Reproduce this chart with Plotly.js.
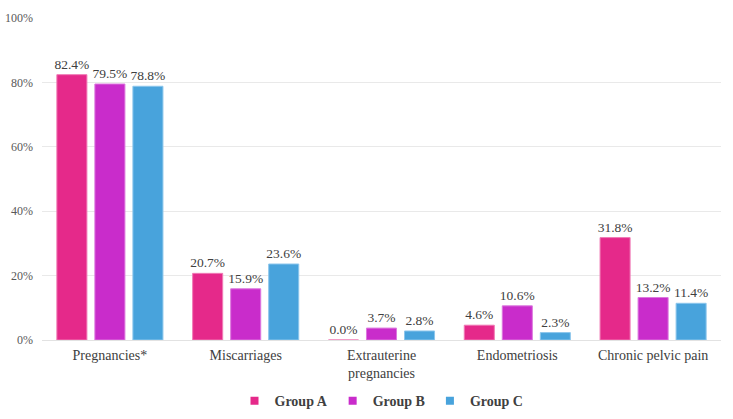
<!DOCTYPE html>
<html><head><meta charset="utf-8">
<script src="https://cdn.plot.ly/plotly-3.0.1.min.js"></script>
<style>body{margin:0;background:#fff}#c{width:733px;height:419px}</style>
</head><body><div id="c"></div>
<script>
const categories = ["Pregnancies*", "Miscarriages", "Extrauterine<br>pregnancies", "Endometriosis", "Chronic pelvic pain"];
const groupA = [82.4, 20.7, 0.0, 4.6, 31.8];
const groupB = [79.5, 15.9, 3.7, 10.6, 13.2];
const groupC = [78.8, 23.6, 2.8, 2.3, 11.4];
const seriesNames = ["Group A", "Group B", "Group C"];
const colors = ["#e5298a", "#c92ccb", "#48a3dc"];
const lines = ["#f07ab5", "#dc78de", "#8cc6ec"];
const font = "'Liberation Serif', 'DejaVu Serif', serif";

const traces = [groupA, groupB, groupC].map((v, i) => ({
  type: "bar", name: seriesNames[i], x: categories, y: v,
  text: v.map(d => d.toFixed(1) + "%"), textposition: "outside", cliponaxis: false,
  constraintext: "none",
  textfont: {family: font, size: 13.5, color: "#404040"},
  marker: {color: colors[i], line: {color: lines[i], width: 1}},
  showlegend: false, hoverinfo: "none"
}));
const legendTraces = seriesNames.map((n, i) => ({
  type: "scatter", mode: "markers", name: n, x: [null], y: [null],
  marker: {symbol: "square", size: 8, color: colors[i]}, showlegend: true
}));

Plotly.newPlot("c", traces.concat(legendTraces), {
  width: 733, height: 419,
  margin: {l: 42, r: 12, t: 18, b: 79, autoexpand: false},
  paper_bgcolor: "#fff", plot_bgcolor: "#fff",
  barmode: "group", bargap: 0.16, bargroupgap: 0.21,
  font: {family: font, color: "#404040"},
  xaxis: {automargin: false, tickfont: {family: font, size: 14, color: "#404040"}, showline: false, ticks: "", ticklabelstandoff: 5},
  yaxis: {automargin: false, range: [0, 100], dtick: 20, ticksuffix: "%", tickfont: {family: font, size: 12, color: "#595959"},
          gridcolor: "#e9e9e9", zerolinecolor: "#e2e2e2", zerolinewidth: 1, showline: false, ticks: "", ticklabelstandoff: 8},
  legend: {orientation: "h", x: 0.5, xanchor: "center", y: -0.19, yanchor: "middle",
           font: {family: font, size: 14, color: "#404040", weight: "bold"}, itemwidth: 30, traceorder: "normal"},
  showlegend: true
}, {staticPlot: true});
</script></body></html>
